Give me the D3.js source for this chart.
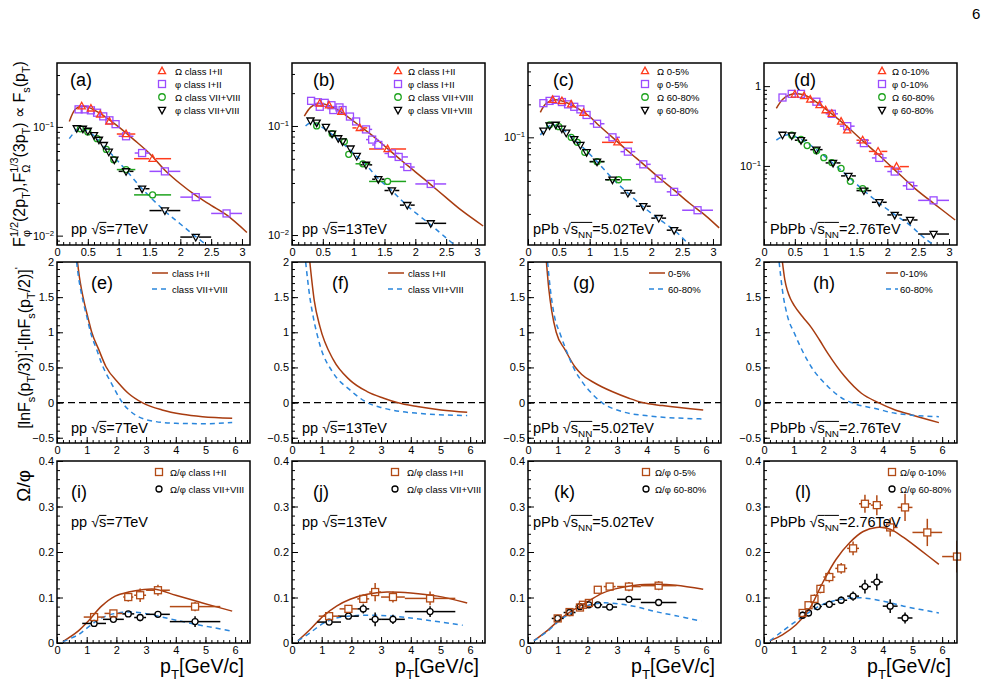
<!DOCTYPE html>
<html><head><meta charset="utf-8">
<script src="https://cdn.jsdelivr.net/npm/d3@7"></script>
<style>
body{margin:0;background:#fff}
svg{display:block}
text{font-family:"Liberation Sans",Arial,Helvetica,sans-serif;white-space:pre}
</style>
</head><body>
<svg id="c" width="1000" height="688"></svg>
<script>
// ---------------- DATA ----------------
// Row 1: [pT, value, xerr]
const a_OmHi=[[0.4,0.155,0.05],[0.55,0.148,0.05],[0.7,0.13,0.05],[0.85,0.112,0.05],[1.12,0.086,0.15],[1.55,0.051,0.3]];
const a_PhHi=[[0.35,0.145,0.05],[0.45,0.145,0.05],[0.55,0.142,0.05],[0.65,0.135,0.05],[0.75,0.125,0.05],[0.85,0.115,0.05],[0.95,0.106,0.05],[1.12,0.082,0.12],[1.38,0.0575,0.12],[1.75,0.039,0.25],[2.25,0.0226,0.25],[2.75,0.016,0.25]];
const a_OmLo=[[0.38,0.096,0.05],[0.5,0.09,0.05],[0.65,0.078,0.05],[0.8,0.062,0.05],[0.92,0.05,0.05],[1.12,0.0405,0.15],[1.55,0.0237,0.3]];
const a_PhLo=[[0.32,0.097,0.05],[0.42,0.096,0.05],[0.5,0.092,0.05],[0.6,0.084,0.05],[0.68,0.076,0.05],[0.76,0.068,0.05],[0.84,0.059,0.05],[0.93,0.05,0.05],[1.12,0.039,0.12],[1.38,0.027,0.12],[1.75,0.017,0.25],[2.25,0.0097,0.25]];
const a_fitHi=[[0.2,0.112],[0.3,0.146],[0.4,0.155],[0.5,0.152],[0.7,0.133],[0.85,0.116],[1.0,0.1],[1.25,0.076],[1.5,0.057],[1.75,0.04],[2.0,0.030],[2.25,0.0234],[2.5,0.019],[2.75,0.0155],[3.08,0.0107]];
const a_fitLo=[[0.2,0.078],[0.3,0.092],[0.35,0.097],[0.45,0.094],[0.6,0.083],[0.8,0.063],[0.95,0.051],[1.12,0.04],[1.38,0.027],[1.75,0.0168],[2.0,0.0128],[2.25,0.0098],[2.5,0.0076]];

const b_OmHi=[[0.45,0.161,0.05],[0.6,0.155,0.05],[0.8,0.135,0.05],[1.1,0.096,0.12],[1.55,0.0615,0.3]];
const b_PhHi=[[0.31,0.17,0.05],[0.42,0.165,0.05],[0.45,0.15,0.05],[0.53,0.163,0.05],[0.64,0.155,0.05],[0.67,0.14,0.05],[0.77,0.148,0.05],[0.82,0.14,0.05],[0.94,0.122,0.05],[1.04,0.11,0.05],[1.2,0.093,0.1],[1.3,0.075,0.1],[1.4,0.067,0.1],[1.62,0.056,0.12],[1.73,0.052,0.15],[1.87,0.042,0.12],[2.25,0.0294,0.25]];
const b_OmLo=[[0.4,0.1,0.05],[0.65,0.085,0.05],[0.85,0.072,0.05],[0.92,0.055,0.05],[1.15,0.045,0.12],[1.55,0.031,0.3]];
const b_PhLo=[[0.3,0.112,0.05],[0.4,0.107,0.05],[0.55,0.098,0.05],[0.65,0.085,0.05],[0.75,0.077,0.05],[0.82,0.072,0.05],[0.95,0.062,0.05],[1.05,0.053,0.05],[1.2,0.044,0.1],[1.4,0.0325,0.1],[1.62,0.0256,0.12],[1.87,0.0188,0.12],[2.25,0.0128,0.25]];
const b_fitHi=[[0.2,0.123],[0.3,0.148],[0.4,0.16],[0.5,0.16],[0.7,0.145],[0.9,0.122],[1.1,0.1],[1.3,0.082],[1.55,0.062],[1.8,0.047],[2.0,0.038],[2.25,0.029],[2.5,0.022],[2.75,0.0168],[3.1,0.0121]];
const b_fitLo=[[0.22,0.1],[0.3,0.107],[0.4,0.104],[0.6,0.088],[0.8,0.071],[1.0,0.056],[1.2,0.044],[1.4,0.033],[1.62,0.0255],[1.87,0.0185],[2.25,0.0124],[2.5,0.0094],[2.65,0.008]];

const c_OmHi=[[0.4,0.22,0.05],[0.55,0.215,0.05],[0.7,0.2,0.05],[0.9,0.168,0.05],[1.45,0.09,0.25]];
const c_PhHi=[[0.25,0.205,0.05],[0.35,0.215,0.05],[0.45,0.22,0.05],[0.55,0.21,0.05],[0.65,0.2,0.05],[0.75,0.19,0.05],[0.85,0.18,0.05],[0.95,0.16,0.05],[1.12,0.133,0.12],[1.37,0.1,0.12],[1.62,0.074,0.12],[1.87,0.0567,0.12],[2.12,0.042,0.12],[2.37,0.0318,0.12],[2.75,0.0216,0.25]];
const c_OmLo=[[0.35,0.13,0.05],[0.5,0.125,0.05],[0.7,0.1,0.05],[0.8,0.09,0.05],[0.92,0.073,0.05],[1.12,0.06,0.12],[1.47,0.041,0.2]];
const c_PhLo=[[0.25,0.115,0.05],[0.35,0.128,0.05],[0.45,0.13,0.05],[0.55,0.12,0.05],[0.62,0.11,0.05],[0.75,0.096,0.05],[0.85,0.085,0.05],[0.95,0.073,0.05],[1.12,0.06,0.12],[1.37,0.041,0.12],[1.62,0.031,0.12],[1.87,0.0235,0.12],[2.12,0.0183,0.12],[2.37,0.0142,0.12]];
const c_fitHi=[[0.2,0.169],[0.3,0.205],[0.45,0.22],[0.6,0.21],[0.8,0.185],[1.0,0.155],[1.12,0.133],[1.37,0.1],[1.62,0.075],[1.87,0.057],[2.12,0.043],[2.37,0.033],[2.62,0.025],[2.87,0.0195],[3.1,0.0149]];
const c_fitLo=[[0.2,0.105],[0.3,0.122],[0.4,0.13],[0.55,0.12],[0.75,0.095],[0.95,0.075],[1.12,0.06],[1.37,0.042],[1.62,0.031],[1.87,0.0232],[2.12,0.018],[2.37,0.0142],[2.65,0.01]];

const d_OmHi=[[0.5,0.787,0.05],[0.65,0.75,0.05],[0.75,0.68,0.05],[0.9,0.58,0.05],[1.0,0.5,0.05],[1.1,0.45,0.05],[1.25,0.36,0.05],[1.35,0.28,0.05],[1.6,0.21,0.1],[1.85,0.152,0.15],[2.15,0.098,0.2]];
const d_PhHi=[[0.3,0.72,0.05],[0.45,0.8,0.05],[0.6,0.8,0.05],[0.85,0.638,0.1],[1.1,0.45,0.1],[1.35,0.315,0.12],[1.62,0.193,0.12],[1.87,0.126,0.12],[2.12,0.085,0.12],[2.37,0.0564,0.12],[2.75,0.037,0.25]];
const d_OmLo=[[0.45,0.243,0.05],[0.6,0.215,0.05],[0.7,0.18,0.05],[0.85,0.155,0.05],[0.97,0.127,0.05],[1.1,0.11,0.05],[1.25,0.093,0.05],[1.4,0.064,0.05],[1.6,0.052,0.1]];
const d_PhLo=[[0.3,0.245,0.05],[0.45,0.24,0.05],[0.6,0.21,0.1],[0.85,0.16,0.1],[1.12,0.109,0.12],[1.37,0.075,0.12],[1.62,0.049,0.12],[1.87,0.035,0.12],[2.12,0.0243,0.12],[2.37,0.021,0.12],[2.75,0.014,0.25]];
const d_fitHi=[[0.2,0.527],[0.3,0.68],[0.4,0.77],[0.55,0.8],[0.7,0.75],[0.85,0.63],[1.1,0.45],[1.35,0.31],[1.62,0.2],[1.87,0.135],[2.05,0.1],[2.25,0.072],[2.45,0.052],[2.75,0.034],[3.1,0.021]];
const d_fitLo=[[0.2,0.21],[0.3,0.235],[0.4,0.245],[0.6,0.215],[0.85,0.16],[1.12,0.108],[1.37,0.073],[1.62,0.049],[1.87,0.034],[2.12,0.0245],[2.37,0.018],[2.6,0.0125],[2.82,0.0094]];

// Row 2: [pT, value]
const e_hi=[[0.69,2.0],[0.75,1.8],[0.83,1.6],[0.93,1.4],[1.03,1.23],[1.17,1.0],[1.4,0.76],[1.65,0.51],[2.07,0.28],[2.41,0.13],[2.87,0.0],[3.54,-0.105],[4.22,-0.166],[4.9,-0.2],[5.9,-0.223]];
const e_lo=[[0.66,2.0],[0.72,1.8],[0.8,1.6],[0.9,1.4],[1.0,1.23],[1.13,1.0],[1.34,0.75],[1.5,0.56],[1.85,0.26],[2.2,0.0],[2.64,-0.176],[3.32,-0.27],[4.0,-0.295],[5.0,-0.3],[5.9,-0.285]];
const f_hi=[[0.6,2.0],[0.75,1.45],[0.94,1.08],[1.39,0.61],[1.95,0.32],[2.53,0.157],[3.09,0.062],[3.54,0.0],[4.22,-0.057],[5.02,-0.105],[5.9,-0.138]];
const f_lo=[[0.46,2.0],[0.6,1.5],[0.71,1.23],[0.94,0.82],[1.39,0.42],[1.95,0.18],[2.53,0.0],[3.09,-0.08],[4.22,-0.152],[5.9,-0.185]];
const g_hi=[[0.62,2.0],[0.7,1.62],[0.8,1.3],[0.95,1.0],[1.25,0.75],[1.58,0.51],[1.81,0.40],[2.26,0.275],[2.83,0.157],[3.4,0.062],[3.85,0.0],[4.53,-0.043],[5.9,-0.105]];
const g_lo=[[0.66,2.0],[0.75,1.62],[0.88,1.25],[1.09,0.97],[1.3,0.73],[1.53,0.5],[1.85,0.28],[2.04,0.18],[2.49,0.0],[3.17,-0.128],[3.96,-0.185],[5.9,-0.233]];
const h_hi=[[0.62,2.0],[0.7,1.75],[0.79,1.59],[0.9,1.47],[1.02,1.38],[1.3,1.22],[1.59,1.07],[1.87,0.89],[2.15,0.70],[2.72,0.37],[3.28,0.133],[3.85,0.0],[4.42,-0.105],[4.98,-0.176],[5.89,-0.285]];
const h_lo=[[0.51,2.0],[0.62,1.6],[0.79,1.23],[1.02,0.99],[1.3,0.73],[1.59,0.51],[2.15,0.23],[2.72,0.04],[2.94,0.0],[3.85,-0.095],[4.42,-0.152],[5.89,-0.2]];

// Row 3: [pT, ratio, xerr, yerr]
const i_hi=[[1.25,0.057,0.35,0.005],[1.9,0.065,0.3,0.005],[2.4,0.101,0.17,0.01],[2.8,0.105,0.2,0.015],[3.4,0.116,0.4,0.012],[4.65,0.08,0.85,0.01]];
const i_lo=[[1.25,0.043,0.4,0.004],[1.9,0.052,0.35,0.004],[2.4,0.064,0.2,0.005],[2.8,0.056,0.2,0.008],[3.4,0.063,0.4,0.006],[4.65,0.047,0.85,0.012]];
const i_fitHi=[[0.2,0.003],[0.71,0.026],[1.05,0.048],[1.5,0.081],[1.96,0.103],[2.41,0.112],[2.87,0.117],[3.32,0.118],[4.0,0.105],[4.9,0.088],[5.9,0.07]];
const i_fitLo=[[0.2,0.003],[0.71,0.018],[1.05,0.035],[1.5,0.055],[1.96,0.065],[2.41,0.068],[2.87,0.066],[3.54,0.057],[4.45,0.044],[5.9,0.026]];
const j_hi=[[1.25,0.059,0.35,0.006],[1.9,0.075,0.3,0.006],[2.4,0.097,0.2,0.01],[2.8,0.112,0.2,0.02],[3.4,0.101,0.4,0.012],[4.65,0.098,0.85,0.015]];
const j_lo=[[1.25,0.046,0.4,0.004],[1.9,0.059,0.35,0.005],[2.4,0.075,0.2,0.01],[2.8,0.052,0.2,0.015],[3.4,0.052,0.4,0.01],[4.65,0.069,0.85,0.012]];
const j_fitHi=[[0.2,0.005],[0.6,0.029],[1.05,0.059],[1.5,0.081],[1.96,0.096],[2.53,0.107],[3.2,0.112],[4.0,0.11],[4.9,0.103],[5.9,0.088]];
const j_fitLo=[[0.2,0.005],[0.6,0.022],[1.05,0.043],[1.5,0.055],[2.07,0.06],[2.64,0.061],[3.43,0.059],[4.34,0.052],[5.75,0.039]];
const k_hi=[[1.0,0.054,0.1,0.005],[1.4,0.068,0.1,0.005],[1.75,0.078,0.1,0.006],[1.85,0.084,0.1,0.008],[2.05,0.088,0.1,0.008],[2.35,0.117,0.1,0.008],[2.75,0.124,0.2,0.008],[3.4,0.124,0.4,0.01],[4.4,0.126,0.6,0.01]];
const k_lo=[[1.0,0.054,0.2,0.004],[1.4,0.067,0.2,0.004],[1.75,0.08,0.15,0.004],[2.05,0.084,0.15,0.005],[2.35,0.084,0.15,0.005],[2.75,0.079,0.25,0.006],[3.4,0.096,0.4,0.007],[4.4,0.089,0.6,0.007]];
const k_fitHi=[[0.2,0.005],[0.68,0.029],[1.13,0.055],[1.59,0.075],[2.04,0.092],[2.49,0.109],[2.94,0.119],[3.62,0.127],[4.3,0.129],[4.98,0.127],[5.9,0.118]];
const k_fitLo=[[0.2,0.005],[0.68,0.027],[1.13,0.053],[1.59,0.07],[2.04,0.083],[2.49,0.088],[2.94,0.087],[3.62,0.08],[4.3,0.069],[4.98,0.06],[5.83,0.048]];
const l_hi=[[1.3,0.066,0.1,0.008],[1.5,0.083,0.1,0.008],[1.7,0.097,0.1,0.01],[1.9,0.119,0.1,0.01],[2.2,0.145,0.2,0.012],[2.6,0.164,0.2,0.012],[3.0,0.208,0.2,0.015],[3.4,0.306,0.2,0.02],[3.8,0.303,0.2,0.022],[4.25,0.254,0.25,0.02],[4.75,0.298,0.25,0.03],[5.5,0.243,0.5,0.03],[6.5,0.19,0.5,0.035]];
const l_lo=[[1.3,0.061,0.1,0.008],[1.5,0.066,0.1,0.008],[1.8,0.08,0.15,0.008],[2.2,0.085,0.2,0.008],[2.6,0.094,0.2,0.008],[3.0,0.103,0.2,0.01],[3.4,0.124,0.2,0.015],[3.8,0.134,0.2,0.018],[4.25,0.081,0.25,0.015],[4.75,0.055,0.25,0.012]];
const l_fitHi=[[0.2,0.005],[0.62,0.018],[1.08,0.04],[1.53,0.075],[1.98,0.133],[2.43,0.184],[2.89,0.221],[3.34,0.245],[3.79,0.254],[4.25,0.25],[4.7,0.232],[5.27,0.204],[5.89,0.173]];
const l_fitLo=[[0.2,0.005],[0.62,0.026],[1.08,0.048],[1.53,0.068],[1.98,0.085],[2.43,0.094],[2.89,0.099],[3.34,0.099],[4.02,0.092],[4.7,0.081],[5.89,0.066]];

// categories / labels
const panelLetters=[["(a)","(b)","(c)","(d)"],["(e)","(f)","(g)","(h)"],["(i)","(j)","(k)","(l)"]];
const systems=["pp","pp","pPb","PbPb"];
const energies=["7TeV","13TeV","5.02TeV","2.76TeV"];
const isNN=[false,false,true,true];
const classHi=["class I+II","class I+II","0-5%","0-10%"];
const classLo=["class VII+VIII","class VII+VIII","60-80%","60-80%"];
const row1XTicks=[0,0.5,1,1.5,2,2.5,3];
const row23XTicks=[0,1,2,3,4,5,6];
const row2YTicks=[-0.5,0,0.5,1,1.5,2];
const row3YTicks=[0,0.1,0.2,0.3,0.4];
const row1YRange=[[0.0082,0.387],[0.0081,0.378],[0.0104,0.477],[0.0102,1.95]];

// ---------------- LAYOUT / STYLE ----------------
const LEFTS=[57,292,528,764], PW=193;
const ROWS=[[63,245],[262,443],[461,643]];
const COL={brown:"#a83c10",blue:"#2a86dc",red:"#ff3b1c",violet:"#9b4cff",green:"#1ea31e",black:"#000",brownM:"#b24a15"};
const FONT='"Liberation Sans",Arial,Helvetica,sans-serif';

const svg=d3.select("#c");
svg.append("rect").attr("width",1000).attr("height",688).attr("fill","#fff");

function rich(parent,x,y,pieces,size,anchor,rotate,color){
  color=color||"#000";
  const g=parent.append("g").attr("transform",`translate(${x},${y}) rotate(${rotate||0})`);
  const inner=g.append("g");
  let cx=0;
  pieces.forEach(p=>{
    if(typeof p==="string") p={t:p};
    let w=0;
    const mk=(txt,dy,sc)=>{const n=inner.append("text").attr("x",cx).attr("y",dy*size).attr("font-size",size*sc).attr("fill",color).attr("font-family",FONT).text(txt);w=Math.max(w,n.node().getComputedTextLength());};
    if(p.t!==undefined) mk(p.t,0,p.sc||1);
    if(p.sup!==undefined) mk(p.sup,-0.45,0.68);
    if(p.sub!==undefined) mk(p.sub,0.3,0.68);
    if(p.over) inner.append("line").attr("x1",cx).attr("x2",cx+w).attr("y1",-size*0.8).attr("y2",-size*0.8).attr("stroke",color).attr("stroke-width",size*0.07);
    cx+=w+(p.gap||0);
  });
  if(anchor==="end") inner.attr("transform",`translate(${-cx},0)`);
  else if(anchor==="middle") inner.attr("transform",`translate(${-cx/2},0)`);
  return g;
}

function sym(g,shape,cx,cy,color,sz){
  let el;
  if(shape==="tu") el=g.append("path").attr("d",`M${cx},${cy-sz*0.6}L${cx+sz*0.55},${cy+sz*0.4}L${cx-sz*0.55},${cy+sz*0.4}Z`);
  else if(shape==="td") el=g.append("path").attr("d",`M${cx},${cy+sz*0.6}L${cx+sz*0.55},${cy-sz*0.4}L${cx-sz*0.55},${cy-sz*0.4}Z`);
  else if(shape==="sq") el=g.append("rect").attr("x",cx-sz/2).attr("y",cy-sz/2).attr("width",sz).attr("height",sz);
  else el=g.append("circle").attr("cx",cx).attr("cy",cy).attr("r",sz/2);
  el.attr("fill","none").attr("stroke",color).attr("stroke-width",1.3);
}

function seg(g,x1,y1,x2,y2,color,w){
  if(Math.abs(x2-x1)<0.5&&Math.abs(y2-y1)<0.5) return;
  g.append("line").attr("x1",x1).attr("y1",y1).attr("x2",x2).attr("y2",y2).attr("stroke",color).attr("stroke-width",w);
}

function points(gBars,gMarks,xs,ys,data,shape,color,sz){
  const gap=sz/2;
  data.forEach(p=>{
    const cx=xs(p[0]),cy=ys(p[1]);
    const x1=xs(p[0]-p[2]),x2=xs(p[0]+p[2]);
    if(x1<cx-gap) seg(gBars,x1,cy,cx-gap,cy,color,1.5);
    if(x2>cx+gap) seg(gBars,cx+gap,cy,x2,cy,color,1.5);
    if(p[3]){
      const y1=ys(p[1]+p[3]),y2=ys(p[1]-p[3]);
      if(y1<cy-gap) seg(gBars,cx,y1,cx,cy-gap,color,1.5);
      if(y2>cy+gap) seg(gBars,cx,cy+gap,cx,y2,color,1.5);
    }
    sym(gMarks,shape,cx,cy,color,sz);
  });
}

function curve(g,xs,ys,data,color,dashed,crv){
  g.append("path").attr("d",d3.line().x(d=>xs(d[0])).y(d=>ys(d[1])).curve(crv||d3.curveCatmullRom)(data))
   .attr("fill","none").attr("stroke",color).attr("stroke-width",1.5)
   .attr("stroke-dasharray",dashed?"5,4":null);
}

function styleAxis(a){
  a.select(".domain").remove();
  a.attr("font-size",11).attr("font-family",FONT);
  a.selectAll(".tick line").attr("stroke","#000").attr("stroke-width",1);
  a.selectAll(".tick text").attr("fill","#000");
}

const fmt=d=>d3.format("~g")(d);
let clipId=0;
function makePanel(r,c,xMax,yScale,xMajor,xMinor,yMajor,yMinor,yLabelFn){
  const x0=LEFTS[c],x1=LEFTS[c]+PW,y0=ROWS[r][0],y1=ROWS[r][1];
  const xs=d3.scaleLinear([0,xMax],[x0,x1]);
  yScale.range([y1,y0]);
  const g=svg.append("g");
  const id="clip"+(clipId++);
  svg.append("clipPath").attr("id",id).append("rect").attr("x",x0).attr("y",y0).attr("width",PW).attr("height",y1-y0);
  g.append("g").attr("transform",`translate(0,${y1})`).call(d3.axisBottom(xs).tickValues(xMinor).tickSize(-3).tickFormat("")).call(styleAxis);
  g.append("g").attr("transform",`translate(0,${y1})`).call(d3.axisBottom(xs).tickValues(xMajor).tickSize(-6).tickPadding(3).tickFormat(fmt)).call(styleAxis);
  g.append("g").attr("transform",`translate(${x0},0)`).call(d3.axisLeft(yScale).tickValues(yMinor).tickSize(-3).tickFormat("")).call(styleAxis);
  const ya=g.append("g").attr("transform",`translate(${x0},0)`).call(d3.axisLeft(yScale).tickValues(yMajor).tickSize(-6).tickPadding(3).tickFormat(fmt)).call(styleAxis);
  if(yLabelFn) ya.selectAll(".tick text").each(yLabelFn);
  const inner=g.append("g").attr("clip-path",`url(#${id})`);
  const marks=g.append("g");
  g.append("rect").attr("x",x0).attr("y",y0).attr("width",PW).attr("height",y1-y0).attr("fill","none").attr("stroke","#000").attr("stroke-width",1.5);
  return {xs,ys:yScale,inner,marks,g,x0,x1,y0,y1};
}

function energyLabel(c,x,y){
  const pcs=[{t:systems[c],gap:4},{t:"\u221A"},{t:"s",over:true}];
  if(isNN[c]) pcs.push({sub:"NN",over:true});
  pcs.push("="+energies[c]);
  rich(svg,x,y,pcs,14.5,"start");
}

// ---------------- ROW 1 ----------------
const row1=[
  {om:a_OmHi,ph:a_PhHi,om2:a_OmLo,ph2:a_PhLo,fh:a_fitHi,fl:a_fitLo},
  {om:b_OmHi,ph:b_PhHi,om2:b_OmLo,ph2:b_PhLo,fh:b_fitHi,fl:b_fitLo},
  {om:c_OmHi,ph:c_PhHi,om2:c_OmLo,ph2:c_PhLo,fh:c_fitHi,fl:c_fitLo},
  {om:d_OmHi,ph:d_PhHi,om2:d_OmLo,ph2:d_PhLo,fh:d_fitHi,fl:d_fitLo}
];
const leg1X=[[105,118],[106,116],[117,129],[118,128]];
const lab1X=[13,21,25,30];
const en1X=[14,10,5,6];
row1.forEach((P,c)=>{
  const yd=row1YRange[c];
  const ys=d3.scaleLog(yd,[0,1]);
  const maj=[],mnr=[];
  for(let e=-3;e<=1;e++) for(let m=1;m<=9;m++){const v=+(m*Math.pow(10,e)).toPrecision(6); if(v>=yd[0]&&v<=yd[1]) (m===1?maj:mnr).push(v);}
  const xm=[];for(let v=0;v<=3.1;v+=0.1) xm.push(+v.toFixed(2));
  const p=makePanel(0,c,3.13,ys,row1XTicks,xm,maj,mnr,function(d){
    const e=Math.round(Math.log10(d)); const t=d3.select(this);
    if(e===0){t.text("1");} else {t.text("10"); t.append("tspan").attr("dy","-0.5em").attr("font-size","0.7em").text("\u2212"+(-e));}
  });
  curve(p.inner,p.xs,p.ys,P.fh,COL.brown,false);
  curve(p.inner,p.xs,p.ys,P.fl,COL.blue,true);
  points(p.inner,p.marks,p.xs,p.ys,P.om2,"ci",COL.green,6);
  points(p.inner,p.marks,p.xs,p.ys,P.ph2,"td",COL.black,6.5);
  points(p.inner,p.marks,p.xs,p.ys,P.ph,"sq",COL.violet,7);
  points(p.inner,p.marks,p.xs,p.ys,P.om,"tu",COL.red,6.5);
  const L=[["tu",COL.red,"\u03A9 "+classHi[c]],["sq",COL.violet,"\u03C6 "+classHi[c]],["ci",COL.green,"\u03A9 "+classLo[c]],["td",COL.black,"\u03C6 "+classLo[c]]];
  L.forEach((l,i)=>{
    const yy=71+i*13;
    sym(svg,l[0],p.x0+leg1X[c][0],yy,l[1],l[0]==="sq"?7:6.5);
    svg.append("text").attr("x",p.x0+leg1X[c][1]).attr("y",yy+3.5).attr("font-size",9.5).attr("font-family",FONT).text(l[2]);
  });
  svg.append("text").attr("x",p.x0+lab1X[c]).attr("y",86).attr("font-size",18).attr("font-family",FONT).text(panelLetters[0][c]);
  energyLabel(c,p.x0+en1X[c],234);
});

// ---------------- ROW 2 ----------------
const row2=[[e_hi,e_lo],[f_hi,f_lo],[g_hi,g_lo],[h_hi,h_lo]];
const leg2X=[[95,111,115],[96,112,116],[121,137,140],[122,134,136]];
const lab2X=[34,40,45,49];
const xmin23=[];for(let v=0;v<=6.5;v+=0.2) xmin23.push(+v.toFixed(2));
row2.forEach((P,c)=>{
  const ys=d3.scaleLinear([-0.575,2],[0,1]);
  const ym=[];for(let v=-0.5;v<=2.001;v+=0.1) ym.push(+v.toFixed(2));
  const p=makePanel(1,c,6.5,ys,row23XTicks,xmin23,row2YTicks,ym,null);
  p.inner.append("line").attr("x1",p.xs(0)).attr("x2",p.xs(6.5)).attr("y1",p.ys(0)).attr("y2",p.ys(0)).attr("stroke","#000").attr("stroke-width",1.2).attr("stroke-dasharray","7,4");
  curve(p.inner,p.xs,p.ys,P[0],COL.brown,false,d3.curveMonotoneX);
  curve(p.inner,p.xs,p.ys,P[1],COL.blue,true,d3.curveMonotoneX);
  const lx=leg2X[c];
  svg.append("line").attr("x1",p.x0+lx[0]).attr("x2",p.x0+lx[1]).attr("y1",273).attr("y2",273).attr("stroke",COL.brown).attr("stroke-width",1.5);
  svg.append("line").attr("x1",p.x0+lx[0]).attr("x2",p.x0+lx[1]).attr("y1",289).attr("y2",289).attr("stroke",COL.blue).attr("stroke-width",1.5).attr("stroke-dasharray","5,4");
  svg.append("text").attr("x",p.x0+lx[2]).attr("y",276.5).attr("font-size",9.5).attr("font-family",FONT).text(classHi[c]);
  svg.append("text").attr("x",p.x0+lx[2]).attr("y",292.5).attr("font-size",9.5).attr("font-family",FONT).text(classLo[c]);
  svg.append("text").attr("x",p.x0+lab2X[c]).attr("y",289).attr("font-size",18).attr("font-family",FONT).text(panelLetters[1][c]);
  energyLabel(c,p.x0+en1X[c],433);
});

// ---------------- ROW 3 ----------------
const row3=[[i_hi,i_lo,i_fitHi,i_fitLo],[j_hi,j_lo,j_fitHi,j_fitLo],[k_hi,k_lo,k_fitHi,k_fitLo],[l_hi,l_lo,l_fitHi,l_fitLo]];
const leg3X=[[102,113],[103,115],[118,127],[128,136]];
const lab3X=[14,21,26,31];
row3.forEach((P,c)=>{
  const ys=d3.scaleLinear([0,0.4],[0,1]);
  const ym=[];for(let v=0;v<=0.4001;v+=0.02) ym.push(+v.toFixed(3));
  const p=makePanel(2,c,6.5,ys,row23XTicks,xmin23,row3YTicks,ym,null);
  curve(p.inner,p.xs,p.ys,P[2],COL.brown,false);
  curve(p.inner,p.xs,p.ys,P[3],COL.blue,true);
  points(p.inner,p.marks,p.xs,p.ys,P[1],"ci",COL.black,6);
  points(p.inner,p.marks,p.xs,p.ys,P[0],"sq",COL.brownM,7);
  const lx=leg3X[c];
  sym(svg,"sq",p.x0+lx[0],472,COL.brownM,7);
  sym(svg,"ci",p.x0+lx[0],489,COL.black,6);
  svg.append("text").attr("x",p.x0+lx[1]).attr("y",475.5).attr("font-size",9.5).attr("font-family",FONT).text("\u03A9/\u03C6 "+classHi[c]);
  svg.append("text").attr("x",p.x0+lx[1]).attr("y",492.5).attr("font-size",9.5).attr("font-family",FONT).text("\u03A9/\u03C6 "+classLo[c]);
  svg.append("text").attr("x",p.x0+lab3X[c]).attr("y",498).attr("font-size",18).attr("font-family",FONT).text(panelLetters[2][c]);
  energyLabel(c,p.x0+en1X[c],527);
  rich(svg,p.x1-6,673,["p",{sub:"T"},"[GeV/c]"],19.5,"end");
});

// ---------------- AXIS TITLES ----------------
rich(svg,25,154,["F",{sup:"1/2",sub:"\u03C6"},"(2p",{sub:"T"},"),F",{sup:"1/3",sub:"\u03A9"},"(3p",{sub:"T"},") \u221D F",{sub:"s"},"(p",{sub:"T"},")"],16,"middle",-90);
rich(svg,30,348,["[lnF",{sub:"s"},"(p",{sub:"T"},"/3)]",{sup:"'"},"-[lnF",{sub:"s"},"(p",{sub:"T"},"/2)]",{sup:"'"}],16,"middle",-90);
rich(svg,30,470,["\u03A9/\u03C6"],19,"end",-90);

svg.append("text").attr("x",972).attr("y",19).attr("font-size",15).attr("font-family",'"Liberation Serif","DejaVu Serif",serif').text("6");
</script>
</body></html>
